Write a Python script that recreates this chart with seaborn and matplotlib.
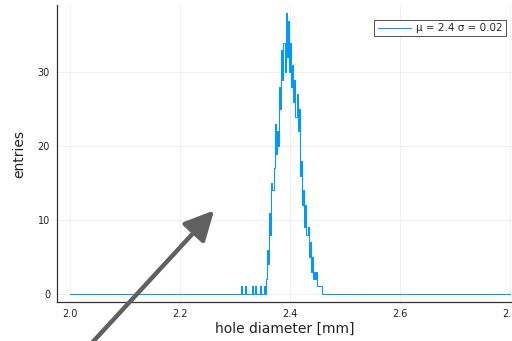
import numpy as np
import pandas as pd
import seaborn as sns
import matplotlib
matplotlib.use("Agg")
import matplotlib.pyplot as plt
from matplotlib.lines import Line2D

# ---- data ----
bin_start = 2.0
bin_end = 2.8
bin_width = 0.002
peak_first_edge = 2.310
# counts per 0.002-wide bin starting at 2.310
peak_counts = [1, 0, 0, 0, 1, 0, 0, 0, 0, 0,
               1, 0, 0, 1, 0, 0, 0, 0, 1, 0,
               0, 1, 0, 2, 6, 4, 11, 8, 15, 14,
               17, 23, 19, 22, 20, 28, 25, 33, 29, 34,
               30, 38, 32, 37, 30, 34, 28, 31, 26, 29,
               24, 27, 22, 25, 16, 18, 12, 14, 9, 12,
               8, 9, 5, 7, 3, 5, 2, 3, 2, 3,
               1, 1, 1, 1]
legend_label = "μ = 2.4 σ = 0.02"
x_label = "hole diameter [mm]"
y_label = "entries"
x_ticks = [2.0, 2.2, 2.4, 2.6, 2.8]
y_ticks = [0, 10, 20, 30]

# ---- build histogram table ----
n_bins = int(round((bin_end - bin_start) / bin_width))
edges = np.round(bin_start + bin_width * np.arange(n_bins + 1), 6)
counts = np.zeros(n_bins)
i0 = int(round((peak_first_edge - bin_start) / bin_width))
counts[i0:i0 + len(peak_counts)] = peak_counts
df = pd.DataFrame({"diameter": edges[:-1] + bin_width / 2, "count": counts})

sns.set_style("white")
plt.rcParams["font.family"] = ["DejaVu Sans"]

fig = plt.figure(figsize=(5.12, 3.41), dpi=100)
ax = fig.add_axes([57 / 512, 1 - 302 / 341, 1 - 57 / 512, (302 - 5) / 341])

color = "#009AFA"
sns.histplot(data=df, x="diameter", weights="count", bins=edges.tolist(),
             element="step", fill=False, color=color, linewidth=0.75, ax=ax)

ax.set_xlim(1.976, 2.804)
ax.set_ylim(-1.1, 39.1)
ax.set_xticks(x_ticks)
ax.set_xticklabels([f"{t:.1f}" for t in x_ticks])
ax.set_yticks(y_ticks)
ax.grid(True, color="#000000", alpha=0.07, linewidth=0.6)
ax.set_axisbelow(True)
for s in ["top", "right"]:
    ax.spines[s].set_visible(False)
for s in ["left", "bottom"]:
    ax.spines[s].set_color("#333333")
    ax.spines[s].set_linewidth(0.9)
ax.tick_params(axis="both", direction="in", length=3, width=0.7,
               color="#333333", labelsize=7, labelcolor="#222222", pad=5)
ax.set_xlabel(x_label, fontsize=10, color="#222222", labelpad=2)
ax.set_ylabel(y_label, fontsize=10, color="#222222", labelpad=8)

handle = Line2D([0], [0], color=color, linewidth=0.75)
leg = ax.legend([handle], [legend_label], loc="upper right",
                bbox_to_anchor=(1 - 1 / 455, 1 - 10 / 297),
                fontsize=7.5, frameon=True, fancybox=False,
                handlelength=3.2, borderpad=0.3, handletextpad=0.5)
leg.get_frame().set_edgecolor("#222222")
leg.get_frame().set_linewidth(0.7)

# gray arrow annotation
ax.annotate("", xy=(2.262, 11.3), xytext=(2.040, -6.6),
            xycoords="data", textcoords="data", annotation_clip=False,
            arrowprops=dict(arrowstyle="-|>,head_length=0.9,head_width=0.45",
                            mutation_scale=20, color="#606060", lw=3.2,
                            shrinkA=0, shrinkB=0))

fig.savefig("out.png", dpi=100)
